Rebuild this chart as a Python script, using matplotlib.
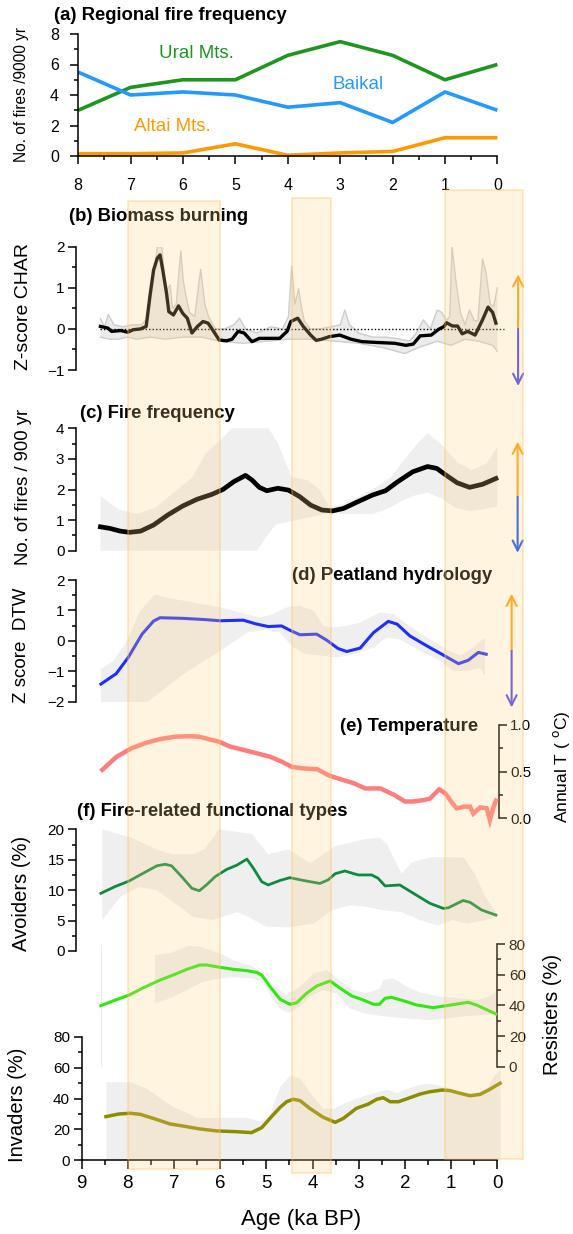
import numpy as np
import matplotlib
matplotlib.use("Agg")
import matplotlib.pyplot as plt
from matplotlib.patches import Rectangle
from matplotlib.ticker import FormatStrFormatter

plt.rcParams['font.family'] = ['Liberation Sans', 'DejaVu Sans']
plt.rcParams['axes.unicode_minus'] = True

# ---------------- data ----------------
# (a) Regional fire frequency
a_age = [8, 7, 6, 5, 4, 3, 2, 1, 0]
a_ural = [3.0, 4.5, 5.0, 5.0, 6.6, 7.5, 6.6, 5.0, 6.0]
a_baikal = [5.5, 4.0, 4.2, 4.0, 3.2, 3.5, 2.2, 4.2, 3.0]
a_altai = [0.15, 0.15, 0.2, 0.8, 0.05, 0.2, 0.3, 1.2, 1.2]
a_names = ['Ural Mts.', 'Baikal', 'Altai Mts.']
a_label_age = [5.74, 2.66, 6.2]
a_label_val = [6.73, 4.66, 1.92]
a_xticks = [8, 7, 6, 5, 4, 3, 2, 1, 0]
a_xminor = [7.5, 6.5, 5.5, 4.5, 3.5, 2.5, 1.5, 0.5]
a_yticks = [0, 2, 4, 6, 8]
a_yminor = [1, 3, 5, 7]

# (b) Biomass burning (z-score CHAR)
b_age = [8.59, 8.43, 8.35, 8.15, 8.0, 7.88, 7.72, 7.6, 7.52, 7.44, 7.36, 7.30, 7.24, 7.16, 7.11,
         7.01, 6.90, 6.81, 6.71, 6.61, 6.49, 6.37, 6.26, 6.14, 6.02, 5.86, 5.74, 5.61, 5.48, 5.31,
         5.15, 4.91, 4.71, 4.55, 4.47, 4.32, 4.20, 4.04, 3.92, 3.80, 3.64, 3.41, 3.17, 2.93, 2.61,
         2.22, 1.98, 1.82, 1.67, 1.43, 1.27, 1.15, 1.10, 0.97, 0.86, 0.76, 0.64, 0.48, 0.32, 0.20,
         0.10, 0.03]
b_z = [0.06, 0.02, -0.06, -0.04, -0.08, -0.02, 0.0, 0.06, 0.79, 1.43, 1.72, 1.80, 1.43, 0.87, 0.42,
       0.34, 0.56, 0.38, 0.26, -0.10, 0.06, 0.18, 0.14, -0.06, -0.27, -0.29, -0.25, -0.06, -0.10, -0.31,
       -0.23, -0.23, -0.23, -0.06, 0.18, 0.26, 0.06, -0.15, -0.28, -0.25, -0.19, -0.15, -0.25, -0.31, -0.33,
       -0.35, -0.40, -0.37, -0.17, -0.15, -0.01, 0.06, 0.15, 0.07, 0.07, -0.12, -0.06, -0.15, 0.22, 0.53,
       0.40, 0.14]
b_up_age = [8.59, 8.5, 8.42, 8.3, 8.1, 7.9, 7.7, 7.55, 7.42, 7.36, 7.26, 7.18, 7.08, 7.03, 6.95,
            6.85, 6.80, 6.74, 6.66, 6.55, 6.42, 6.33, 6.25, 6.1, 5.9, 5.7, 5.58, 5.45, 5.2, 4.9,
            4.65, 4.52, 4.45, 4.38, 4.30, 4.25, 4.18, 4.05, 3.85, 3.6, 3.4, 3.3, 3.2, 3.0, 2.7,
            2.4, 2.1, 1.9, 1.75, 1.6, 1.45, 1.3, 1.2, 1.1, 1.03, 0.98, 0.9, 0.8, 0.7, 0.6,
            0.5, 0.42, 0.32, 0.25, 0.15, 0.08, 0.0]
b_up = [0.25, 0.05, 0.35, 0.1, 0.05, 0.1, 0.1, 0.3, 1.4, 2.0, 2.0, 0.9, 1.07, 0.5, 0.6,
        1.9, 1.2, 0.8, 0.4, 0.3, 1.45, 0.6, 0.3, 0.0, 0.0, 0.1, 0.26, 0.0, -0.1, 0.05,
        0.0, 0.3, 1.53, 0.6, 0.98, 0.6, 0.2, 0.0, 0.0, 0.05, 0.1, 0.46, 0.1, -0.1, -0.2,
        -0.2, -0.25, -0.3, -0.1, 0.22, 0.0, 0.46, 0.4, 0.2, 0.3, 2.0, 1.2, 0.4, 0.1, 0.46,
        0.2, 0.2, 1.7, 1.4, 0.6, 0.55, 1.0]
b_lo_age = [8.59, 8.4, 8.2, 8.0, 7.8, 7.5, 7.2, 6.8, 6.4, 6.0, 5.5, 5.0, 4.5, 4.0, 3.5, 3.0,
            2.5, 2.0, 1.7, 1.3, 1.0, 0.7, 0.4, 0.1, 0.0]
b_lo = [-0.2, -0.25, -0.25, -0.2, -0.25, -0.2, -0.25, -0.2, -0.2, -0.3, -0.35, -0.3, -0.25, -0.25,
        -0.3, -0.35, -0.45, -0.6, -0.45, -0.3, -0.4, -0.25, -0.3, -0.4, -0.55]
b_yticks = [-1, 0, 1, 2]
b_yminor = [-0.5, 0.5, 1.5]

# (c) Fire frequency
c_age = [8.59, 8.39, 8.16, 7.96, 7.72, 7.44, 7.13, 6.81, 6.5, 6.18, 5.94, 5.7, 5.45, 5.31, 5.15,
         4.99, 4.75, 4.52, 4.28, 4.04, 3.8, 3.57, 3.33, 3.02, 2.7, 2.42, 2.15, 1.83, 1.51, 1.31,
         1.11, 0.87, 0.6, 0.32, 0.03]
c_val = [0.78, 0.73, 0.64, 0.6, 0.64, 0.84, 1.17, 1.46, 1.68, 1.84, 2.0, 2.26, 2.46, 2.31, 2.07,
         1.96, 2.04, 1.98, 1.77, 1.49, 1.33, 1.3, 1.38, 1.6, 1.82, 1.96, 2.26, 2.58, 2.75, 2.69,
         2.47, 2.22, 2.07, 2.17, 2.36]
c_up_age = [8.59, 8.2, 7.8, 7.4, 7.0, 6.6, 6.3, 6.0, 5.75, 4.95, 4.75, 4.45, 4.1, 3.85, 3.62,
            3.3, 3.0, 2.6, 2.3, 2.0, 1.67, 1.5, 1.23, 0.87, 0.55, 0.23, 0.0]
c_up = [1.78, 1.35, 1.2, 1.4, 1.9, 2.4, 3.2, 3.6, 4.0, 4.0, 3.5, 2.4, 2.3, 2.0, 1.4,
        1.55, 1.77, 2.1, 2.4, 3.0, 3.6, 3.84, 3.5, 2.9, 2.63, 2.85, 3.4]
c_lo_age = [8.59, 5.2, 5.0, 4.8, 4.5, 4.2, 3.9, 3.6, 3.3, 3.0, 2.7, 2.4, 2.1, 1.8, 1.5, 1.2,
            0.9, 0.6, 0.3, 0.0]
c_lo = [0.0, 0.0, 0.45, 0.85, 0.95, 1.05, 1.15, 1.25, 1.2, 1.2, 1.2, 1.35, 1.6, 1.8, 1.9, 1.7,
        1.4, 1.3, 1.35, 1.45]
c_yticks = [0, 1, 2, 3, 4]
c_yminor = [0.5, 1.5, 2.5, 3.5]

# (d) Peatland hydrology
d_age = [8.58, 8.25, 7.99, 7.69, 7.44, 7.3, 6.81, 6.34, 6.0, 5.5, 5.23, 4.96, 4.67, 4.45, 4.27,
         3.91, 3.69, 3.45, 3.26, 2.97, 2.68, 2.36, 2.17, 1.89, 1.53, 1.2, 0.84, 0.63, 0.41, 0.24]
d_val = [-1.42, -1.08, -0.55, 0.22, 0.65, 0.76, 0.74, 0.7, 0.66, 0.68, 0.56, 0.47, 0.49, 0.32, 0.2,
         0.22, 0.02, -0.25, -0.35, -0.24, 0.27, 0.64, 0.55, 0.16, -0.16, -0.44, -0.75, -0.64, -0.38, -0.44]
d_up_age = [8.58, 8.31, 8.02, 7.73, 7.41, 7.16, 6.58, 6.0, 5.57, 5.14, 4.85, 4.56, 4.27, 3.98,
            3.76, 3.55, 3.26, 2.97, 2.54, 2.25, 1.96, 1.53, 1.1, 0.81, 0.52, 0.27]
d_up = [-0.93, -0.66, 0.0, 0.99, 1.53, 1.42, 1.26, 1.1, 0.93, 0.77, 0.88, 1.1, 1.15, 0.99,
        0.49, 0.44, 0.49, 0.6, 0.93, 0.88, 0.55, 0.11, -0.27, -0.49, -0.22, 0.11]
d_lo_age = [8.58, 7.59, 6.8, 6.0, 5.42, 4.99, 4.7, 4.42, 4.13, 3.76, 3.48, 3.12, 2.68, 2.39,
            2.11, 1.67, 1.24, 0.95, 0.66, 0.37, 0.27]
d_lo = [-2.03, -2.03, -1.1, -0.33, 0.27, 0.38, 0.27, -0.22, -0.44, -0.49, -0.55, -0.44, -0.22, 0.11,
        0.05, -0.33, -0.66, -0.99, -0.99, -0.88, -1.15]
d_yticks = [-2, -1, 0, 1, 2]
d_yminor = [-1.5, -0.5, 0.5, 1.5]

# (e) Temperature
e_age = [8.55, 8.24, 7.92, 7.6, 7.29, 6.97, 6.66, 6.46, 6.26, 6.02, 5.79, 5.55, 5.23, 4.92, 4.68,
         4.44, 4.2, 3.89, 3.65, 3.34, 3.1, 2.86, 2.53, 2.23, 2.0, 1.82, 1.6, 1.46, 1.26, 1.13,
         0.97, 0.88, 0.72, 0.59, 0.52, 0.37, 0.23, 0.16, 0.09, 0.03]
e_t = [0.52, 0.66, 0.75, 0.81, 0.85, 0.875, 0.88, 0.875, 0.85, 0.82, 0.77, 0.74, 0.70, 0.66, 0.61,
       0.55, 0.535, 0.525, 0.46, 0.41, 0.375, 0.32, 0.32, 0.25, 0.18, 0.18, 0.195, 0.21, 0.31, 0.27,
       0.16, 0.107, 0.125, 0.125, 0.05, 0.118, 0.107, -0.02, 0.107, 0.19]
e_yticks = [0.0, 0.5, 1.0]
e_yminor = [0.25, 0.75]

# (f) Fire-related functional types
av_age = [8.58, 8.27, 7.97, 7.66, 7.37, 7.19, 7.05, 6.83, 6.61, 6.45, 6.29, 6.11, 5.86, 5.64, 5.42,
          5.28, 5.1, 4.96, 4.7, 4.49, 4.2, 3.84, 3.66, 3.51, 3.3, 3.01, 2.72, 2.58, 2.43, 2.11,
          1.82, 1.46, 1.17, 1.06, 0.74, 0.59, 0.34, 0.03]
av_val = [9.48, 10.6, 11.5, 12.8, 14.0, 14.25, 14.0, 12.2, 10.3, 9.9, 10.9, 12.2, 13.4, 14.1, 15.1,
          13.6, 11.4, 10.85, 11.6, 12.05, 11.6, 11.1, 11.7, 12.7, 13.15, 12.5, 12.5, 11.95, 10.7, 10.85,
          9.5, 7.84, 7.0, 7.1, 8.3, 8.0, 6.74, 5.9]
av_up_age = [8.55, 7.92, 7.37, 7.05, 6.58, 6.34, 6.02, 5.31, 4.96, 4.52, 4.05, 3.82, 3.5, 3.18,
             2.86, 2.55, 2.39, 2.07, 1.84, 1.44, 1.05, 0.73, 0.49, 0.26, 0.02]
av_up = [20.0, 18.6, 16.7, 15.9, 15.9, 16.7, 20.0, 19.2, 15.9, 16.7, 14.4, 15.6, 17.3, 17.8,
         18.4, 18.6, 17.6, 12.7, 14.6, 15.4, 15.4, 15.4, 12.7, 8.9, 6.3]
av_lo_age = [8.55, 8.16, 7.76, 7.37, 6.97, 6.58, 6.18, 5.95, 5.63, 5.39, 5.0, 4.52, 3.97, 3.58,
             3.18, 2.86, 2.47, 2.07, 1.68, 1.28, 0.97, 0.65, 0.26, 0.02]
av_lo = [5.1, 8.9, 10.5, 10.0, 7.8, 5.6, 5.1, 5.6, 6.4, 5.6, 4.0, 3.9, 4.5, 6.7,
         7.5, 7.3, 6.7, 6.4, 5.1, 4.2, 5.1, 4.5, 5.1, 5.6]
av_yticks = [0, 5, 10, 15, 20]
av_yminor = [2.5, 7.5, 12.5, 17.5]

rs_age = [8.58, 8.31, 7.97, 7.66, 7.3, 6.98, 6.72, 6.44, 6.29, 6.0, 5.71, 5.42, 5.21, 5.1, 4.92,
          4.7, 4.49, 4.34, 4.13, 3.91, 3.62, 3.4, 3.15, 2.9, 2.68, 2.55, 2.43, 2.29, 2.03, 1.74,
          1.39, 1.1, 0.63, 0.45, 0.03]
rs_val = [39.8, 43.0, 46.7, 51.5, 56.5, 60.2, 63.5, 66.3, 66.3, 64.8, 63.5, 62.6, 61.5, 59.8, 52.2,
          43.9, 40.7, 41.7, 47.8, 52.6, 55.9, 51.1, 46.1, 43.5, 40.7, 40.7, 44.6, 45.2, 43.0, 40.2,
          38.5, 39.8, 42.0, 40.2, 34.4]
rs_up_age = [7.41, 7.09, 6.69, 6.44, 6.0, 5.72, 5.28, 5.1, 4.85, 4.56, 4.27, 3.98, 3.69, 3.48,
             3.12, 2.83, 2.54, 2.47, 2.25, 1.96, 1.67, 1.24, 0.81, 0.45, 0.16, 0.03]
rs_up = [72.8, 73.9, 78.7, 78.3, 73.9, 69.5, 65.2, 60.9, 53.3, 46.7, 52.2, 60.9, 63.0, 57.6,
         50.0, 47.8, 51.1, 56.5, 57.6, 52.2, 48.3, 45.7, 44.6, 43.5, 45.7, 49.0]
rs_lo_age = [7.41, 7.09, 6.72, 6.37, 6.0, 5.72, 5.28, 5.06, 4.85, 4.67, 4.49, 4.27, 4.06, 3.77,
             3.48, 3.19, 2.83, 2.39, 1.96, 1.53, 1.1, 0.66, 0.3, 0.03]
rs_lo = [41.3, 44.6, 50.0, 55.4, 57.6, 58.3, 57.6, 54.3, 43.5, 37.0, 35.2, 39.1, 45.7, 50.0,
         47.8, 38.0, 34.4, 32.6, 31.5, 30.4, 31.5, 33.0, 33.7, 34.4]
pct_yticks = [0, 20, 40, 60, 80]
pct_yminor = [10, 30, 50, 70]

iv_age = [8.47, 8.2, 7.95, 7.73, 7.45, 7.08, 6.8, 6.44, 6.07, 5.64, 5.32, 5.1, 4.92, 4.7, 4.56,
          4.42, 4.27, 4.06, 3.77, 3.51, 3.33, 3.05, 2.79, 2.61, 2.47, 2.32, 2.14, 1.93, 1.67, 1.46,
          1.2, 1.02, 0.81, 0.59, 0.37, 0.16, -0.06]
iv_val = [28.2, 29.9, 30.4, 29.7, 27.1, 23.4, 22.1, 20.2, 18.9, 18.4, 17.8, 21.0, 27.1, 34.3, 37.9,
          39.5, 38.6, 33.6, 27.8, 24.5, 27.1, 33.6, 36.4, 39.5, 40.5, 37.9, 37.9, 40.1, 42.9, 44.4,
          45.5, 45.1, 43.4, 41.8, 42.7, 46.0, 49.9]
iv_up_age = [8.47, 7.95, 7.59, 7.08, 6.51, 6.0, 5.42, 5.14, 4.95, 4.71, 4.49, 4.27, 4.02, 3.77,
             3.55, 3.26, 2.97, 2.68, 2.39, 2.18, 1.96, 1.67, 1.46, 1.17, 0.81, 0.52, 0.23, 0.09, -0.06]
iv_up = [50.9, 50.9, 46.6, 35.8, 27.8, 27.8, 27.8, 25.4, 28.0, 47.7, 55.3, 53.1, 42.3, 33.6,
         33.6, 37.9, 41.2, 43.8, 46.0, 43.8, 46.6, 49.4, 49.8, 48.1, 44.4, 43.4, 46.6, 54.2, 59.6]
x_ticks = [9, 8, 7, 6, 5, 4, 3, 2, 1, 0]
x_minor = [8.5, 7.5, 6.5, 5.5, 4.5, 3.5, 2.5, 1.5, 0.5]

# highlighted periods (ka BP)
band_start = [8.0, 4.45, 1.13]
band_end = [6.0, 3.6, -0.55]

# ---------------- layout ----------------
W, H, DPI = 573, 1234, 100
AGE0_PX, PX_PER_KA = 497.3, 46.2
PANEL_L, PANEL_R = 60, 540
XLIM = ((AGE0_PX - PANEL_L) / PX_PER_KA, (AGE0_PX - PANEL_R) / PX_PER_KA)
LEFT_SPINE = 9.12
band_top_px = [200.7, 198.3, 190.0]
band_bot_px = [1169.0, 1172.7, 1158.5]

TICK_FS = 11
LABEL_FS = 14
TITLE_FS = 13.3
GRAY = '#EFEFEF'
FAINT = '#EDEDED'

fig = plt.figure(figsize=(W / DPI, H / DPI), dpi=DPI)


def px_axes(left, top, right, bottom, **kw):
    return fig.add_axes([left / W, 1 - bottom / H, (right - left) / W, (bottom - top) / H], **kw)


def ftext(x, y, s, **kw):
    return fig.text(x / W, 1 - y / H, s, **kw)


def base(ax, ylim):
    ax.set_xlim(*XLIM)
    ax.set_ylim(*ylim)
    ax.patch.set_visible(False)
    for s in ['top', 'right', 'bottom', 'left']:
        ax.spines[s].set_visible(False)
    ax.tick_params(axis='x', which='both', bottom=False, labelbottom=False)


def left_axis(ax, major, minor, spine_age=LEFT_SPINE):
    ax.spines['left'].set_visible(True)
    ax.spines['left'].set_position(('data', spine_age))
    ax.spines['left'].set_linewidth(1.1)
    ax.set_yticks(major)
    ax.set_yticks(minor, minor=True)
    ax.tick_params(axis='y', which='major', length=5.8, width=1.1, labelsize=TICK_FS, pad=2.5)
    ax.tick_params(axis='y', which='minor', length=2.8, width=1.1)


def right_axis(ax, major, minor, spine_age):
    ax.spines['right'].set_visible(True)
    ax.spines['right'].set_position(('data', spine_age))
    ax.spines['right'].set_linewidth(1.1)
    ax.yaxis.tick_right()
    ax.set_yticks(major)
    ax.set_yticks(minor, minor=True)
    ax.tick_params(axis='y', which='major', length=5.8, width=1.1, labelsize=TICK_FS, pad=2.5)
    ax.tick_params(axis='y', which='minor', length=2.8, width=1.1)


def faint_frame(ax, x_start, x_end, ylim, left=False):
    ax.plot([x_start, x_end], [ylim[0], ylim[0]], color=FAINT, lw=0.8, zorder=0.5)
    if left:
        ax.plot([x_start, x_start], [ylim[0], ylim[1]], color=FAINT, lw=0.8, zorder=0.5)


def band(ax, up_age, up, lo_age, lo, color=GRAY, **kw):
    xs = list(up_age) + list(lo_age)[::-1]
    ys = list(up) + list(lo)[::-1]
    ax.fill(xs, ys, color=color, lw=0, zorder=1, **kw)


def arrow(ax, age, split, top, bottom, c_up, c_dn):
    kw = dict(arrowstyle='->', lw=1.5, shrinkA=0, shrinkB=0, mutation_scale=18)
    ax.annotate('', xy=(age, top), xytext=(age, split), annotation_clip=False,
                arrowprops=dict(color=c_up, **kw))
    ax.annotate('', xy=(age, bottom), xytext=(age, split), annotation_clip=False,
                arrowprops=dict(color=c_dn, **kw))


# ---- (a) ----
axa = px_axes(78.2, 34, 497.4, 156)
axa.set_xlim(8, 0)
axa.set_ylim(0, 8)
axa.patch.set_visible(False)
for s in ['top', 'right']:
    axa.spines[s].set_visible(False)
for s in ['left', 'bottom']:
    axa.spines[s].set_linewidth(1.1)
a_colors = ['#1E961E', '#2299FF', '#FF9900']
for vals, col in zip([a_ural, a_baikal, a_altai], a_colors):
    axa.plot(a_age, vals, color=col, lw=2.6, clip_on=False, solid_capstyle='butt')
for name, xa, ya, col in zip(a_names, a_label_age, a_label_val, a_colors):
    axa.text(xa, ya, name, color=col, fontsize=13.5, ha='center', va='center')
axa.set_xticks(a_xticks)
axa.set_xticks(a_xminor, minor=True)
axa.set_yticks(a_yticks)
axa.set_yticks(a_yminor, minor=True)
axa.tick_params(which='major', length=5.8, width=1.1, labelsize=11.5)
axa.tick_params(which='minor', length=3.0, width=1.1)
axa.tick_params(axis='x', which='major', pad=10)
axa.tick_params(axis='y', which='major', pad=8)
ftext(22, 95, 'No. of fires /9000 yr', fontsize=11.2, rotation=90, ha='center', va='center')
ftext(54, 15, '(a) Regional fire frequency', fontsize=TITLE_FS, fontweight='bold', ha='left', va='center')

# ---- (b) ----
b_ylim = (-1, 2)
axb = px_axes(PANEL_L, 246.7, PANEL_R, 370)
base(axb, b_ylim)
left_axis(axb, b_yticks, b_yminor)
faint_frame(axb, b_age[0], 0, b_ylim)
band(axb, b_up_age, b_up, b_lo_age, b_lo, color='#E6E6E6', alpha=0.8)
axb.plot(b_up_age, b_up, color='#CDCDCD', lw=1.0, zorder=1.5)
axb.plot(b_lo_age, b_lo, color='#CDCDCD', lw=1.0, zorder=1.5)
axb.hlines(0, b_age[0], -0.15, colors='black', linestyles=(0, (1, 1.5)), lw=1.0, zorder=2)
axb.plot(b_age, b_z, color='black', lw=2.4, zorder=3, clip_on=False)
arrow(axb, -0.45, 0, 1.33, -1.39, '#FFA010', '#4848EE')
ftext(24, 307, 'Z-score CHAR', fontsize=LABEL_FS, rotation=90, ha='center', va='center')
ftext(68.7, 216.7, '(b) Biomass burning', fontsize=TITLE_FS, fontweight='bold', ha='left', va='center')

# ---- (c) ----
c_ylim = (0, 4)
axc = px_axes(PANEL_L, 428.3, PANEL_R, 550.7)
base(axc, c_ylim)
left_axis(axc, c_yticks, c_yminor)
faint_frame(axc, c_age[0], 0, c_ylim)
band(axc, c_up_age, c_up, c_lo_age, c_lo)
axc.plot(c_age, c_val, color='black', lw=3.4, zorder=3, clip_on=False)
arrow(axc, -0.44, 1.76, 3.56, -0.07, '#FFA010', '#1050FF')
ftext(24, 487, 'No. of fires / 900 yr', fontsize=13.3, rotation=90, ha='center', va='center')
ftext(79.7, 414, '(c) Fire frequency', fontsize=TITLE_FS, fontweight='bold', ha='left', va='center')

# ---- (d) ----
d_ylim = (-2, 2)
axd = px_axes(PANEL_L, 580, PANEL_R, 701.7)
base(axd, d_ylim)
left_axis(axd, d_yticks, d_yminor)
faint_frame(axd, d_age[0], d_age[-1], d_ylim)
band(axd, d_up_age, d_up, d_lo_age, d_lo)
axd.plot(d_age, d_val, color='#1E2EFF', lw=2.2, zorder=3, clip_on=False)
arrow(axd, -0.31, -0.33, 1.55, -2.19, '#FFA010', '#4848EE')
ftext(22, 645, 'Z score  DTW', fontsize=13.5, rotation=90, ha='center', va='center')
ftext(292.3, 575, '(d) Peatland hydrology', fontsize=TITLE_FS, fontweight='bold', ha='left', va='center')

# ---- (e) ----
e_ylim = (0, 1)
axe = px_axes(PANEL_L, 725, PANEL_R, 818.3)
base(axe, e_ylim)
right_axis(axe, e_yticks, e_yminor, -0.03)
axe.yaxis.set_major_formatter(FormatStrFormatter('%.1f'))
axe.plot(e_age, e_t, color='#FF7C7C', lw=3.2, zorder=3, clip_on=False, solid_joinstyle='miter')
ftext(562, 767, 'Annual T ( $^{\\mathrm{o}}$C)', fontsize=12.5, rotation=90, ha='center', va='center')
ftext(478, 726.7, '(e) Temperature', fontsize=TITLE_FS, fontweight='bold', ha='right', va='center')

# ---- (f) avoiders ----
av_ylim = (0, 20)
axf1 = px_axes(PANEL_L, 829.3, PANEL_R, 951)
base(axf1, av_ylim)
left_axis(axf1, av_yticks, av_yminor)
faint_frame(axf1, av_age[0], 0, av_ylim)
band(axf1, av_up_age, av_up, av_lo_age, av_lo)
axf1.plot(av_age, av_val, color='#0E8A3E', lw=2.0, zorder=3, clip_on=False)
ftext(22, 893, 'Avoiders (%)', fontsize=14.5, rotation=90, ha='center', va='center')
ftext(76.7, 811.7, '(f) Fire-related functional types', fontsize=TITLE_FS, fontweight='bold',
      ha='left', va='center')

# ---- resisters ----
rs_ylim = (0, 80)
axf2 = px_axes(PANEL_L, 944, PANEL_R, 1066.7)
base(axf2, rs_ylim)
right_axis(axf2, pct_yticks, pct_yminor, 0.0)
faint_frame(axf2, rs_age[0], 0, rs_ylim, left=True)
band(axf2, rs_up_age, rs_up, rs_lo_age, rs_lo)
axf2.plot(rs_age, rs_val, color='#2EE80E', lw=2.2, zorder=3, clip_on=False)
ftext(552, 1014, 'Resisters (%)', fontsize=14.5, rotation=90, ha='center', va='center')

# ---- invaders ----
iv_ylim = (0, 80)
axf3 = px_axes(PANEL_L, 1037, PANEL_R, 1160)
base(axf3, iv_ylim)
left_axis(axf3, pct_yticks, pct_yminor, spine_age=9)
axf3.fill_between(iv_up_age, iv_up, 0, color=GRAY, lw=0, zorder=1)
axf3.plot(iv_age, iv_val, color='#8C8C00', lw=2.5, zorder=3, clip_on=False)
axf3.spines['bottom'].set_visible(True)
axf3.spines['bottom'].set_linewidth(1.1)
axf3.spines['bottom'].set_bounds(0, 9)
axf3.set_xticks(x_ticks)
axf3.set_xticks(x_minor, minor=True)
axf3.tick_params(axis='x', which='major', bottom=True, labelbottom=True, length=6.5, width=1.1,
                 labelsize=13.5, pad=4)
axf3.tick_params(axis='x', which='minor', bottom=True, length=3.6, width=1.1)
ftext(17.5, 1105, 'Invaders (%)', fontsize=14.5, rotation=90, ha='center', va='center')
ftext(301.5, 1220, 'Age (ka BP)', fontsize=16, ha='center', va='center')

# ---- highlighted bands overlay ----
ov = fig.add_axes([0, 0, 1, 1], zorder=20)
ov.set_xlim(AGE0_PX / PX_PER_KA, (AGE0_PX - W) / PX_PER_KA)
ov.set_ylim(H, 0)
ov.axis('off')
ov.patch.set_visible(False)
for s, e, t, b in zip(band_start, band_end, band_top_px, band_bot_px):
    ov.add_patch(Rectangle((e, t), s - e, b - t, facecolor=(1.0, 0.82, 0.5, 0.24),
                           edgecolor=(1.0, 0.76, 0.35, 0.4), lw=1.2))

fig.savefig('out.png', dpi=DPI)
